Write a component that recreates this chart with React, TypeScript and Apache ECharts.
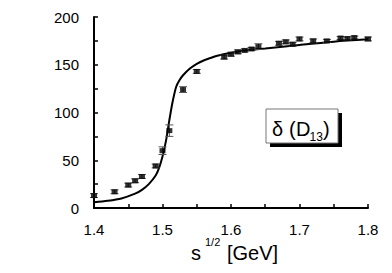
import React, { useEffect, useRef } from "react";
import * as echarts from "echarts";

const pointX = [1.40, 1.43, 1.45, 1.46, 1.47, 1.49, 1.50, 1.51, 1.53, 1.55, 1.59, 1.60, 1.61, 1.62, 1.63, 1.64, 1.67, 1.68, 1.69, 1.70, 1.72, 1.74, 1.76, 1.77, 1.78, 1.80];
const pointY = [13, 17, 24, 28.5, 33, 44, 60, 81, 124, 143, 158, 161, 163.5, 165, 166.5, 169, 172.5, 174, 171.5, 177, 175, 175, 178, 177.5, 178.5, 177];
const pointErr = [2, 2, 2, 2, 2, 2, 4, 6, 3, 2, 2, 2, 2, 1.5, 1.5, 3, 2, 2, 2, 2, 2, 1.5, 1.5, 1.5, 1.5, 2];

const curveX = [1.40, 1.42, 1.44, 1.46, 1.47, 1.48, 1.49, 1.495, 1.50, 1.505, 1.51, 1.515, 1.52, 1.525, 1.53, 1.54, 1.55, 1.56, 1.57, 1.58, 1.60, 1.62, 1.65, 1.70, 1.75, 1.80];
const curveY = [6, 7.5, 10, 15, 19, 25, 34, 42, 54, 70, 92, 112, 127, 134, 139, 146, 151, 154.5, 157, 159.5, 162.5, 165, 167, 170.8, 174.2, 176.6];

const xTicks = { min: 1.4, max: 1.8, interval: 0.1 };
const yTicks = { min: 0, max: 200, interval: 50 };

const FONT = "'Liberation Sans', Arial, sans-serif";

function txt(x: number, y: number, text: string, size: number) {
  return {
    type: "text",
    x,
    y,
    z: 12,
    style: { text, font: `${size}px ${FONT}`, fill: "#000", verticalAlign: "middle", align: "left" },
  };
}

export default function App() {
  const ref = useRef<HTMLDivElement>(null);
  useEffect(() => {
    if (!ref.current) return;
    const chart = echarts.init(ref.current, null, { renderer: "svg" });
    const pts = pointX.map((x, i) => [x, pointY[i], pointErr[i]]);
    const curve = curveX.map((x, i) => [x, curveY[i]]);
    chart.setOption({
      animation: false,
      backgroundColor: "#fff",
      grid: { left: 94, right: 24, top: 17, bottom: 65 },
      xAxis: {
        type: "value",
        min: xTicks.min,
        max: xTicks.max,
        interval: xTicks.interval,
        axisLine: { lineStyle: { color: "#000", width: 2 } },
        axisTick: { inside: true, length: 4, lineStyle: { color: "#000", width: 1.5 } },
        minorTick: { show: true, splitNumber: 2, length: 4, lineStyle: { color: "#000", width: 1.5 } },
        splitLine: { show: false },
        axisLabel: {
          color: "#000",
          fontSize: 15,
          fontFamily: FONT,
          margin: 14,
          formatter: (v: number) => v.toFixed(1),
        },
      },
      yAxis: {
        type: "value",
        min: yTicks.min,
        max: yTicks.max,
        interval: yTicks.interval,
        axisLine: { show: true, lineStyle: { color: "#000", width: 2 } },
        axisTick: { show: true, inside: true, length: 4, lineStyle: { color: "#000", width: 1.5 } },
        minorTick: { show: true, splitNumber: 2, length: 4, lineStyle: { color: "#000", width: 1.5 } },
        splitLine: { show: false },
        axisLabel: { color: "#000", fontSize: 15, fontFamily: FONT, margin: 15 },
      },
      series: [
        {
          type: "line",
          data: curve,
          smooth: 0.3,
          showSymbol: false,
          lineStyle: { color: "#000", width: 2 },
          z: 3,
        },
        {
          type: "custom",
          data: pts,
          renderItem: (params: any, api: any) => {
            const x = api.value(0);
            const y = api.value(1);
            const e = api.value(2);
            const top = api.coord([x, y + e]);
            const bot = api.coord([x, y - e]);
            const hw = 4;
            const style = { stroke: "#555", lineWidth: 1 };
            return {
              type: "group",
              children: [
                { type: "line", shape: { x1: top[0], y1: top[1], x2: bot[0], y2: bot[1] }, style },
                { type: "line", shape: { x1: top[0] - hw, y1: top[1], x2: top[0] + hw, y2: top[1] }, style },
                { type: "line", shape: { x1: bot[0] - hw, y1: bot[1], x2: bot[0] + hw, y2: bot[1] }, style },
              ],
            };
          },
          z: 4,
        },
        {
          type: "scatter",
          data: pts.map((p) => [p[0], p[1]]),
          symbol: "rect",
          symbolSize: [6, 5],
          itemStyle: { color: "#000" },
          z: 5,
        },
      ],
      graphic: [
        { type: "rect", shape: { x: 270, y: 113, width: 72, height: 34 }, style: { fill: "#000" }, z: 10 },
        { type: "rect", shape: { x: 266, y: 109, width: 72, height: 34 }, style: { fill: "#fff", stroke: "#777", lineWidth: 1 }, z: 11 },
        txt(272, 129, "δ", 20),
        txt(289, 129, "(", 20),
        txt(296, 129, "D", 20),
        txt(309.5, 137, "13", 12),
        txt(323, 129, ")", 20),
        txt(191, 253, "s", 20),
        txt(205, 242, "1/2", 11),
        txt(227, 253, "[GeV]", 20),
      ],
    });
    return () => chart.dispose();
  }, []);
  return <div ref={ref} style={{ width: 392, height: 273, position: "absolute", left: 0, top: 0 }} />;
}
